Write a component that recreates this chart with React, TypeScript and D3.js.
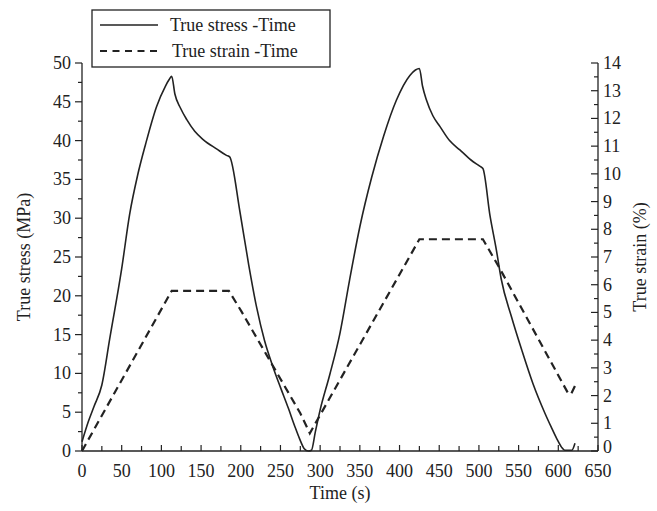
import * as d3 from "d3";

// stress curve (time s, stress MPa)
const stressTime = [0, 8, 15, 25, 35, 50, 60, 70, 80, 94, 105, 110, 113, 117, 124, 132, 142, 153, 170, 182, 186, 199, 210, 220, 230, 240, 250, 260, 268, 274, 280, 285, 289, 294, 300, 312, 325, 337, 350, 365, 380, 396, 413, 420, 425, 429, 434, 442, 451, 463, 476, 490, 501, 505, 514, 522, 528, 541, 554, 568, 583, 591, 598, 604, 608, 617, 621];
const stressValues = [1.2, 3.8, 5.7, 8.5, 14.5, 23.5, 30.5, 35.5, 39.5, 44.4, 47.0, 47.9, 48.3, 46.0, 44.2, 42.7, 41.2, 40.1, 38.9, 38.1, 37.9, 30.8, 24.0, 18.5, 14.2, 11.0, 8.2, 5.5, 3.2, 1.6, 0.3, 0, 0.1, 2.5, 5.3, 9.8, 15.2, 22.0, 28.9, 35.3, 40.6, 45.2, 48.4, 49.1, 49.3, 47.0, 45.2, 43.2, 41.8, 40.0, 38.8, 37.5, 36.7, 36.4, 30.3, 25.9, 22.2, 17.3, 13.0, 8.7, 4.9, 3.1, 1.6, 0.5, 0.1, 0.1, 1.0];

// strain curve (time s, strain %)
const strainTime = [0, 113, 185, 201, 275, 287, 425, 505, 526, 612, 616, 621];
const strainValues = [0, 5.78, 5.78, 5.03, 1.36, 0.64, 7.64, 7.64, 6.6, 2.1, 2.05, 2.35];

const xTicks = d3.range(0, 651, 50);
const stressTicks = d3.range(0, 51, 5);
const strainTicks = d3.range(0, 15, 1);
const legendLabels = ["True stress -Time", "True strain -Time"];

const W = 657, H = 511;
const FONT = "Liberation Serif, DejaVu Serif, Times New Roman, serif";

export default function App() {
  const x = d3.scaleLinear().domain([0, 650]).range([82, 598]);
  const yL = d3.scaleLinear().domain([0, 50]).range([451, 63]);
  const yR = d3.scaleLinear().domain([0, 14]).range([451, 63]);

  const stressLine = d3.line<number>()
    .x((_, i) => x(stressTime[i])).y(d => yL(d))
    .curve(d3.curveMonotoneX);
  const strainLine = d3.line<number>().x((_, i) => x(strainTime[i])).y(d => yR(d));

  const xMinor = d3.range(25, 650, 50);
  const lMinor = d3.range(2.5, 50, 5);
  const rMinor = d3.range(0.5, 14, 1);
  const c = "#222";
  const fs = 18;

  return (
    <svg width={W} height={H} style={{ position: "absolute", left: 0, top: 0, fontFamily: FONT }}>
      <rect width={W} height={H} fill="#fff" />
      {/* axes lines */}
      <line x1={x(0)} x2={x(650)} y1={yL(0)} y2={yL(0)} stroke={c} strokeWidth={1.3} />
      <line x1={x(0)} x2={x(0)} y1={yL(0)} y2={yL(50)} stroke={c} strokeWidth={1.3} />
      <line x1={x(650)} x2={x(650)} y1={yR(0)} y2={yR(14)} stroke={c} strokeWidth={1.3} />

      {/* bottom ticks (inward) */}
      {xTicks.map(t => (
        <g key={"x" + t}>
          <line x1={x(t)} x2={x(t)} y1={yL(0)} y2={yL(0) - 6} stroke={c} strokeWidth={1.2} />
          <text x={x(t)} y={yL(0) + 26} textAnchor="middle" fontSize={fs} fill={c}>{t}</text>
        </g>
      ))}
      {xMinor.map(t => (
        <line key={"xm" + t} x1={x(t)} x2={x(t)} y1={yL(0)} y2={yL(0) - 5} stroke={c} strokeWidth={1.2} />
      ))}

      {/* left ticks (outward) */}
      {stressTicks.map(v => (
        <g key={"l" + v}>
          <line x1={x(0) - 7} x2={x(0)} y1={yL(v)} y2={yL(v)} stroke={c} strokeWidth={1.2} />
          <text x={x(0) - 11} y={yL(v) + 6} textAnchor="end" fontSize={fs} fill={c}>{v}</text>
        </g>
      ))}
      {lMinor.map(v => (
        <line key={"lm" + v} x1={x(0) - 4} x2={x(0)} y1={yL(v)} y2={yL(v)} stroke={c} strokeWidth={1.2} />
      ))}

      {/* right ticks (inward) */}
      {strainTicks.map(v => (
        <g key={"r" + v}>
          <line x1={x(650) - 7} x2={x(650)} y1={yR(v)} y2={yR(v)} stroke={c} strokeWidth={1.2} />
          <text x={x(650) + 5} y={yR(v) + (v === 0 ? 2 : 6)} textAnchor="start" fontSize={fs} fill={c}>{v}</text>
        </g>
      ))}
      {rMinor.map(v => (
        <line key={"rm" + v} x1={x(650) - 4} x2={x(650)} y1={yR(v)} y2={yR(v)} stroke={c} strokeWidth={1.2} />
      ))}

      {/* axis titles */}
      <text x={340} y={499} textAnchor="middle" fontSize={fs} fill={c}>Time (s)</text>
      <text transform={`translate(30,257) rotate(-90)`} textAnchor="middle" fontSize={fs} fill={c}>True stress (MPa)</text>
      <text transform={`translate(646,257) rotate(-90)`} textAnchor="middle" fontSize={fs} fill={c}>True strain (%)</text>

      {/* data */}
      <path d={stressLine(stressValues) ?? ""} fill="none" stroke={c} strokeWidth={1.6} strokeLinejoin="round" />
      <path d={strainLine(strainValues) ?? ""} fill="none" stroke={c} strokeWidth={2.2} strokeDasharray="8,5" />

      {/* legend */}
      <rect x={92} y={10} width={238} height={57} fill="#fff" stroke={c} strokeWidth={1.3} />
      <line x1={100} x2={158} y1={25} y2={25} stroke={c} strokeWidth={1.6} />
      <line x1={100} x2={158} y1={51} y2={51} stroke={c} strokeWidth={2} strokeDasharray="7,5.5" />
      <text x={170} y={31} fontSize={fs} fill={c}>{legendLabels[0]}</text>
      <text x={172} y={57} fontSize={fs} fill={c}>{legendLabels[1]}</text>
    </svg>
  );
}
